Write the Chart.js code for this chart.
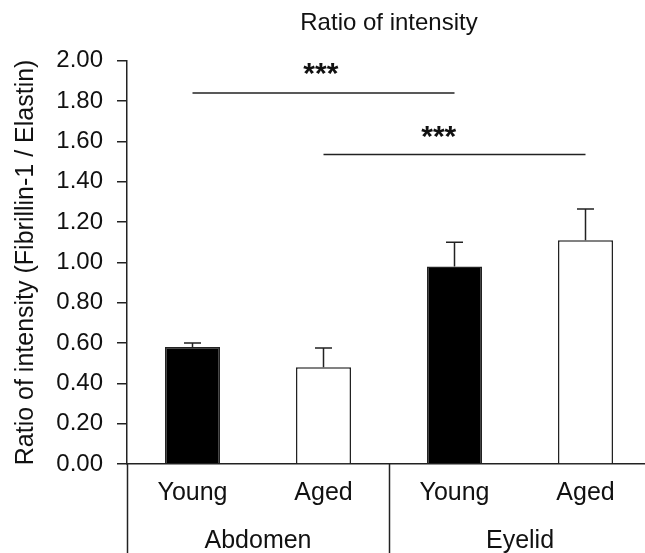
<!DOCTYPE html>
<html>
<head>
<meta charset="utf-8">
<script src="https://cdn.jsdelivr.net/npm/chart.js@4.4.1/dist/chart.umd.min.js"></script>
<style>
  html, body { margin: 0; padding: 0; background: #fff; overflow: hidden; }
  #wrap { width: 660px; height: 553px; }
</style>
</head>
<body>
<div id="wrap"><canvas id="chart" width="660" height="553"></canvas></div>
<script>
// values
const categories = ['Young', 'Aged', 'Young', 'Aged'];
const groups = ['Abdomen', 'Eyelid'];
const groupSizes = [2, 2];
const means = [0.58, 0.48, 0.98, 1.11];
const errors = [0.02, 0.095, 0.12, 0.155];
const barColors = ['#000000', '#ffffff', '#000000', '#ffffff'];

// significance brackets: from bar index, to bar index, line level, star position
const sigFrom = [0, 1];
const sigTo = [2, 3];
const sigLevel = [1.84, 1.535];
const sigStarX = [0.98, 1.88];
const sigStarY = [1.975, 1.66];
const sigText = ['***', '***'];

const yTicks = [0, 0.2, 0.4, 0.6, 0.8, 1.0, 1.2, 1.4, 1.6, 1.8, 2.0];

const LINE = '#222';
const FONT = "'Liberation Sans', Arial, sans-serif";
const STAR_SIZE = 30;

Chart.defaults.font.family = FONT;
Chart.defaults.color = '#111';

const extras = {
  id: 'extras',
  afterDatasetsDraw(chart) {
    const { ctx, chartArea } = chart;
    const x = chart.scales.x;
    const y = chart.scales.y;
    const bars = chart.getDatasetMeta(0).data;

    ctx.save();
    ctx.strokeStyle = LINE;
    ctx.lineWidth = 1.5;

    // error bars (upper only)
    bars.forEach((bar, i) => {
      const top = y.getPixelForValue(means[i]);
      const end = y.getPixelForValue(means[i] + errors[i]);
      ctx.beginPath();
      ctx.moveTo(bar.x, top);
      ctx.lineTo(bar.x, end);
      ctx.moveTo(bar.x - 8.5, end);
      ctx.lineTo(bar.x + 8.5, end);
      ctx.stroke();
    });

    // significance lines and stars
    ctx.fillStyle = '#111';
    ctx.font = 'bold ' + STAR_SIZE + 'px ' + FONT;
    ctx.textAlign = 'center';
    ctx.textBaseline = 'alphabetic';
    sigFrom.forEach((from, i) => {
      const py = y.getPixelForValue(sigLevel[i]);
      ctx.beginPath();
      ctx.moveTo(bars[from].x, py);
      ctx.lineTo(bars[sigTo[i]].x, py);
      ctx.stroke();
      const sx = x.getPixelForValue(sigStarX[i]);
      const sy = y.getPixelForValue(sigStarY[i]) + 0.57 * STAR_SIZE;
      ctx.fillText(sigText[i], sx, sy);
    });

    // group separators below the axis
    let edge = -0.5;
    const edges = [edge];
    groupSizes.forEach((n) => { edge += n; edges.push(edge); });
    edges.forEach((e) => {
      const px = Math.round(x.getPixelForValue(e)) + 0.5;
      ctx.beginPath();
      ctx.moveTo(px, chartArea.bottom);
      ctx.lineTo(px, chart.height);
      ctx.stroke();
    });
    ctx.restore();
  },
};

new Chart(document.getElementById('chart'), {
  type: 'bar',
  data: {
    labels: categories,
    datasets: [{
      data: means,
      backgroundColor: barColors,
      borderColor: LINE,
      borderWidth: 1.5,
      barPercentage: 0.42,
      categoryPercentage: 1,
    }],
  },
  options: {
    responsive: false,
    animation: false,
    layout: { padding: { left: 0, right: 9, top: 0, bottom: 0 } },
    plugins: {
      legend: { display: false },
      tooltip: { enabled: false },
      title: {
        display: true,
        text: 'Ratio of intensity',
        fullSize: false,
        color: '#111',
        font: { size: 24, weight: 'normal' },
        padding: { top: 9, bottom: 23 },
      },
    },
    scales: {
      y: {
        min: 0,
        max: 2,
        afterBuildTicks: (scale) => { scale.ticks = yTicks.map((v) => ({ value: v })); },
        afterFit: (scale) => { scale.width = 127; },
        ticks: {
          padding: 14,
          font: { size: 24 },
          color: '#111',
          callback: (v) => Number(v).toFixed(2),
        },
        grid: { drawOnChartArea: false, tickLength: 10, color: LINE, lineWidth: 1.5 },
        border: { display: true, color: LINE, width: 1.5 },
        title: {
          display: true,
          text: 'Ratio of intensity (Fibrillin-1 / Elastin)',
          font: { size: 25 },
          color: '#111',
          padding: { top: 11, bottom: 0 },
        },
      },
      x: {
        afterFit: (scale) => { scale.height = 52; },
        ticks: { padding: 14, font: { size: 25 }, color: '#111' },
        grid: { display: false, drawTicks: false },
        border: { display: true, color: LINE, width: 1.5 },
      },
      x2: {
        type: 'category',
        position: 'bottom',
        labels: groups,
        offset: true,
        afterFit: (scale) => { scale.height = 37; },
        ticks: { padding: 10, font: { size: 25 }, color: '#111' },
        grid: { display: false, drawTicks: false },
        border: { display: false },
      },
    },
  },
  plugins: [extras],
});
</script>
</body>
</html>
